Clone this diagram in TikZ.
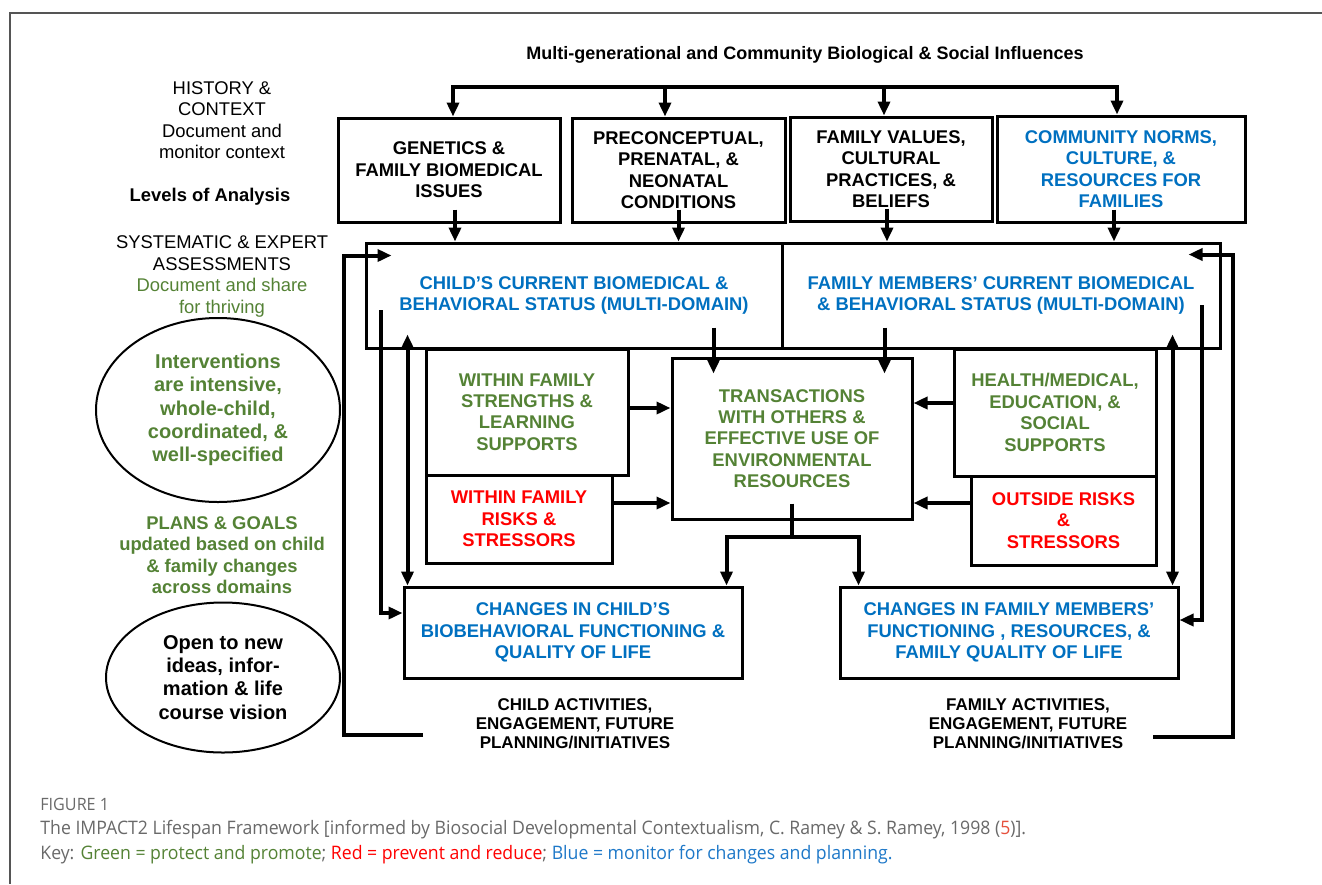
\documentclass[tikz,border=0pt]{standalone}
\usepackage{fontspec}
\setmainfont{Liberation Sans}
\newfontfamily\capfont[FakeStretch=0.95]{Open Sans}
\usepackage{tikz}
\usetikzlibrary{arrows.meta, shapes.geometric}
\definecolor{kblue}{RGB}{0, 112, 192}
\definecolor{kgreen}{RGB}{84, 130, 53}
\definecolor{kred}{RGB}{255, 0, 0}
\definecolor{capgray}{RGB}{105, 105, 105}
\definecolor{capred}{RGB}{230, 80, 60}
\definecolor{capblue}{RGB}{30, 120, 200}
\definecolor{framegray}{RGB}{85, 85, 85}
\newcommand{\boxfont}{\fontsize{9.2}{10.7}\selectfont\bfseries}
\newcommand{\sidefont}{\fontsize{9.2}{10.7}\selectfont}
\newcommand{\ovalfont}{\fontsize{10}{11.6}\selectfont\bfseries}
\newcommand{\actfont}{\fontsize{8.5}{9.6}\selectfont\bfseries}
\newcommand{\capsize}{\capfont\fontsize{9.3}{11}\selectfont}
\tikzset{
	box/.style={draw, line width=1.5pt, rectangle, align=center, inner sep=0pt, font=\boxfont},
	oval/.style={draw, line width=1pt, ellipse, align=center, inner sep=0pt, font=\ovalfont},
	conn/.style={line width=2pt},
	arr/.style={conn, -{Triangle[length=7pt, width=6pt]}},
	dbl/.style={conn, {Triangle[length=7pt, width=6pt]}-{Triangle[length=7pt, width=6pt]}},
}

\begin{document}
\begin{tikzpicture}[x=0.5pt, y=-0.5pt]
	\useasboundingbox (0,0) rectangle (1322,884);
	\draw[framegray, line width=0.8pt] (1322,13) -- (10,13) -- (10,884);

	% title and top row of influences
	\node[font=\fontsize{9}{10}\selectfont\bfseries] (ttl) at (805,55) {Multi-generational and Community Biological \& Social Influences};

	\node[box, minimum width=111pt, minimum height=52pt] (gen) at (449,170) {GENETICS \&\\FAMILY BIOMEDICAL\\ISSUES};
	\node[box, minimum width=106.5pt, minimum height=52pt] (pre) at (678.5,170) {PRECONCEPTUAL,\\PRENATAL, \&\\NEONATAL\\CONDITIONS};
	\node[box, minimum width=101pt, minimum height=52pt] (val) at (891,169) {FAMILY VALUES,\\CULTURAL\\PRACTICES, \&\\BELIEFS};
	\node[box, minimum width=124pt, minimum height=53pt, text=kblue] (com) at (1121,169) {COMMUNITY NORMS,\\CULTURE, \&\\RESOURCES FOR\\FAMILIES};

	% current status
	\node[box, minimum width=208pt, minimum height=52.5pt, text=kblue] (cst) at (574,295.5) {CHILD’S CURRENT BIOMEDICAL \&\\BEHAVIORAL STATUS (MULTI-DOMAIN)};
	\node[box, minimum width=219pt, minimum height=52.5pt, text=kblue] (fst) at (1001,295.5) {FAMILY MEMBERS’ CURRENT BIOMEDICAL\\\& BEHAVIORAL STATUS (MULTI-DOMAIN)};

	% supports, risks and transactions
	\node[box, minimum width=101pt, minimum height=63pt, text=kgreen] (wfs) at (527,412) {WITHIN FAMILY\\STRENGTHS \&\\LEARNING\\SUPPORTS};
	\node[box, minimum width=93pt, minimum height=44pt, text=kred] (wfr) at (519,519) {WITHIN FAMILY\\RISKS \&\\STRESSORS};
	\node[box, minimum width=120pt, minimum height=80.5pt, text=kgreen] (trn) at (792,438.5) {TRANSACTIONS\\WITH OTHERS \&\\EFFECTIVE USE OF\\ENVIRONMENTAL\\RESOURCES};
	\node[box, minimum width=101pt, minimum height=63.5pt, text=kgreen] (hms) at (1055,412.5) {HEALTH/MEDICAL,\\EDUCATION, \&\\SOCIAL\\SUPPORTS};
	\node[box, minimum width=92.5pt, minimum height=44.5pt, text=kred] (osr) at (1063.5,520.5) {OUTSIDE RISKS\\\&\\STRESSORS};

	% changes
	\node[box, minimum width=169pt, minimum height=45.5pt, text=kblue] (cch) at (573,632.5) {CHANGES IN CHILD’S\\BIOBEHAVIORAL FUNCTIONING \&\\QUALITY OF LIFE};
	\node[box, minimum width=169pt, minimum height=45.5pt, text=kblue] (cfm) at (1009,632.5) {CHANGES IN FAMILY MEMBERS’\\FUNCTIONING , RESOURCES, \&\\FAMILY QUALITY OF LIFE};

	\node[align=center, font=\actfont] (cac) at (575,724) {CHILD ACTIVITIES,\\ENGAGEMENT, FUTURE\\PLANNING/INITIATIVES};
	\node[align=center, font=\actfont] (fac) at (1028,724) {FAMILY ACTIVITIES,\\ENGAGEMENT, FUTURE\\PLANNING/INITIATIVES};

	% left column
	\node[align=center, font=\sidefont] (hst) at (222,120) {HISTORY \&\\CONTEXT\\Document and\\monitor context};
	\node[font=\sidefont\bfseries] (lvl) at (210,197) {Levels of Analysis};
	\node[align=center, font=\sidefont] (sys) at (222,276.5) {SYSTEMATIC \& EXPERT\\ASSESSMENTS\\\textcolor{kgreen}{Document and share}\\\textcolor{kgreen}{for thriving}};
	\node[oval, minimum width=122pt, minimum height=92pt, text=kgreen] (int) at (218,410) {Interventions\\are intensive,\\whole-child,\\coordinated, \&\\well-specified};
	\node[align=center, font=\sidefont\bfseries, text=kgreen] (pln) at (222,555) {PLANS \& GOALS\\updated based on child\\\& family changes\\across domains};
	\node[oval, minimum width=117pt, minimum height=75pt] (opn) at (223,677.5) {Open to new\\ideas, infor-\\mation \& life\\course vision};

	% arrows from the top
	\coordinate (b1) at (453,87);
	\coordinate (b2) at (665,87);
	\coordinate (b3) at (884,87);
	\coordinate (b4) at (1117,87);
	\draw[arr] (b3) -- (b1) -- (b1 |- gen.north);
	\draw[arr] (b2) -- (b4) -- (b4 |- com.north);
	\draw[arr] (b2) -- (b2 |- pre.north);
	\draw[arr] (b3) -- (b3 |- val.north);

	\draw[arr] ([xshift=3pt, yshift=7pt]gen.south) -- ([xshift=3pt]gen.south |- cst.north);
	\draw[arr] ([yshift=7pt]pre.south) -- (pre.south |- cst.north);
	\draw[arr] ([xshift=-2pt, yshift=7pt]val.south) -- ([xshift=-2pt]val.south |- fst.north);
	\draw[arr] ([xshift=-3.5pt, yshift=7pt]com.south) -- ([xshift=-3.5pt]com.south |- fst.north);

	% status into transactions
	\draw[arr] ([xshift=21.5pt, yshift=14.5pt]trn.north west) -- ([xshift=21.5pt, yshift=-8.5pt]trn.north west);
	\draw[arr] ([xshift=-14.5pt, yshift=14.5pt]trn.north east) -- ([xshift=-14.5pt, yshift=-8.5pt]trn.north east);

	\draw[arr] ([yshift=2pt]wfs.east) -- ([yshift=2pt]wfs.east -| trn.west);
	\draw[arr] ([yshift=8pt]wfr.east) -- ([yshift=8pt]wfr.east -| trn.west);
	\draw[arr] ([yshift=4.75pt]hms.west) -- ([yshift=4.75pt]hms.west -| trn.east);
	\draw[arr] ([yshift=8.75pt]osr.west) -- ([yshift=8.75pt]osr.west -| trn.east);

	% transactions down to changes
	\coordinate (jn) at (792,537);
	\draw[conn] ([yshift=8.5pt]trn.south) -- (jn);
	\draw[arr] (jn) -| ([xshift=-8.5pt]cch.north east);
	\draw[arr] (jn) -| ([xshift=10pt]cfm.north west);

	% status and changes
	\draw[arr] ([xshift=8pt, yshift=-7.25pt]cst.west) |- ([yshift=9.75pt]cch.west);
	\draw[arr] ([xshift=-10pt, yshift=-4.75pt]fst.east) |- ([yshift=6.25pt]cfm.east);
	\draw[dbl] ([xshift=2.5pt]cch.north west) -- ([xshift=2.5pt, yshift=7.5pt]cch.north west |- cst.south);
	\draw[dbl] ([xshift=-3.5pt]cfm.north east) -- ([xshift=-3.5pt, yshift=7.5pt]cfm.north east |- fst.south);

	% feedback loops
	\coordinate (lpS) at (423,735);
	\coordinate (rpS) at (1153,737);
	\draw[arr] (lpS) -- ++(-79,0) |- ([xshift=13.5pt, yshift=-7pt]cst.north west);
	\draw[arr] (rpS) -- ++(80,0) |- ([xshift=-16.5pt, yshift=-6.5pt]fst.north east);

	% caption
	\node[anchor=west, inner sep=0pt, font=\capfont\fontsize{8.5}{10}\selectfont, text=capgray] (fig) at (40,804) {FIGURE 1};
	\node[anchor=west, inner sep=0pt, font=\capsize, text=capgray] (cap) at (40,830) {The IMPACT2 Lifespan Framework [informed by Biosocial Developmental Contextualism, C. Ramey \& S. Ramey, 1998 (\textcolor{capred}{5})].};
	\node[anchor=west, inner sep=0pt, font=\capsize, text=capgray] (key) at (40,855) {Key: \textcolor{kgreen}{Green = protect and promote}; \textcolor{kred}{Red = prevent and reduce}; \textcolor{capblue}{Blue = monitor for changes and planning.}};
\end{tikzpicture}
\end{document}
